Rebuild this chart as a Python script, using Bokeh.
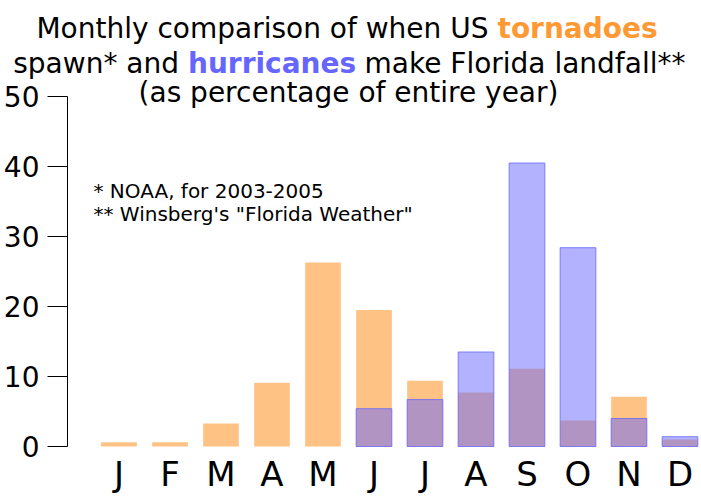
from bokeh.plotting import figure
from bokeh.models import Range1d, FixedTicker, Label, ColumnDataSource
from bokeh.embed import file_html
from bokeh.resources import INLINE

months = ["J", "F", "M", "A", "M", "J", "J", "A", "S", "O", "N", "D"]
tornadoes = [0.6, 0.6, 3.3, 9.1, 26.3, 19.5, 9.4, 7.7, 11.1, 3.7, 7.1, 1.0]
hurricanes = [0, 0, 0, 0, 0, 5.4, 6.7, 13.5, 40.5, 28.4, 4.0, 1.4]
y_ticks = [0, 10, 20, 30, 40, 50]

FONT = "DejaVu Sans"
W, H = 701, 502            # frame covers the whole canvas
PX_PER_X = 51.0            # px per category
X_FIRST = 118.5            # px of first category centre
Y_ZERO = 446.0             # px of y = 0
PX_PER_Y = 7.0             # px per y unit
AXIS_PX = 67.0             # px of y axis line

X0 = -X_FIRST / PX_PER_X
X1 = (W - X_FIRST) / PX_PER_X
Y0 = -(H - Y_ZERO) / PX_PER_Y
Y1 = Y_ZERO / PX_PER_Y

p = figure(frame_width=W, frame_height=H, output_backend="svg",
           toolbar_location=None,
           x_range=Range1d(X0, X1), y_range=Range1d(Y0, Y1),
           min_border_left=0, min_border_top=0, min_border_bottom=0,
           min_border_right=0)
p.outline_line_color = None
p.xgrid.visible = False
p.ygrid.visible = False
p.background_fill_color = "white"
p.border_fill_color = "white"

idx = list(range(len(months)))
t_src = ColumnDataSource(dict(x=idx, top=tornadoes))
h_x = [i for i, v in zip(idx, hurricanes) if v > 0]
h_top = [v for v in hurricanes if v > 0]
h_src = ColumnDataSource(dict(x=h_x, top=h_top))

p.vbar(x="x", top="top", bottom=0, width=0.7, source=t_src,
       fill_color="#FF9933", fill_alpha=0.6, line_color=None)
p.vbar(x="x", top="top", bottom=0, width=0.7, source=h_src,
       fill_color="#6666FF", fill_alpha=0.5, line_color="#6666FF",
       line_alpha=0.8, line_width=1)

# helpers: picture pixel -> data coords
def dx(px):
    return (px - X_FIRST) / PX_PER_X
def dy(py):
    return (Y_ZERO - py) / PX_PER_Y

# y axis (fixed inside the frame)
ya = p.yaxis[0]
ya.fixed_location = dx(AXIS_PX)
ya.ticker = FixedTicker(ticks=y_ticks)
ya.bounds = (min(y_ticks), max(y_ticks))
ya.major_tick_out = 20
ya.major_tick_in = 0
ya.minor_tick_line_color = None
ya.axis_line_color = "black"
ya.major_tick_line_color = "black"
ya.major_label_text_font = FONT
ya.major_label_text_font_size = "28px"
ya.major_label_text_color = "black"
ya.major_label_standoff = 8

# x axis (fixed at y = 0)
xa = p.xaxis[0]
xa.fixed_location = 0
xa.ticker = FixedTicker(ticks=idx)
xa.major_label_overrides = {i: m for i, m in zip(idx, months)}
xa.axis_line_color = None
xa.major_tick_line_color = None
xa.minor_tick_line_color = None
xa.major_tick_out = 0
xa.major_tick_in = 0
xa.major_label_text_font = FONT
xa.major_label_text_font_size = "34px"
xa.major_label_text_color = "black"
xa.major_label_standoff = 7

def lab(text, px, py, align="left", color="black", bold=False, size="28px"):
    p.add_layout(Label(x=dx(px), y=dy(py), text=text, text_align=align,
                       text_baseline="alphabetic", text_font=FONT,
                       text_font_size=size, text_color=color,
                       text_font_style="bold" if bold else "normal"))

# title
lab("Monthly comparison of when US", 488, 27.5, align="right")
lab("tornadoes", 497, 27.5, color="#FF9933", bold=True)
lab("spawn* and", 178.5, 63, align="right")
lab("hurricanes", 187.5, 63, color="#6666FF", bold=True)
lab("make Florida landfall**", 364, 63)
lab("(as percentage of entire year)", 348, 91.5, align="center")

# notes
lab("* NOAA, for 2003-2005", 93, 190.7, size="20px")
lab("** Winsberg's \"Florida Weather\"", 93, 213.5, size="20px")

open("out.html", "w").write(file_html(p, INLINE))
